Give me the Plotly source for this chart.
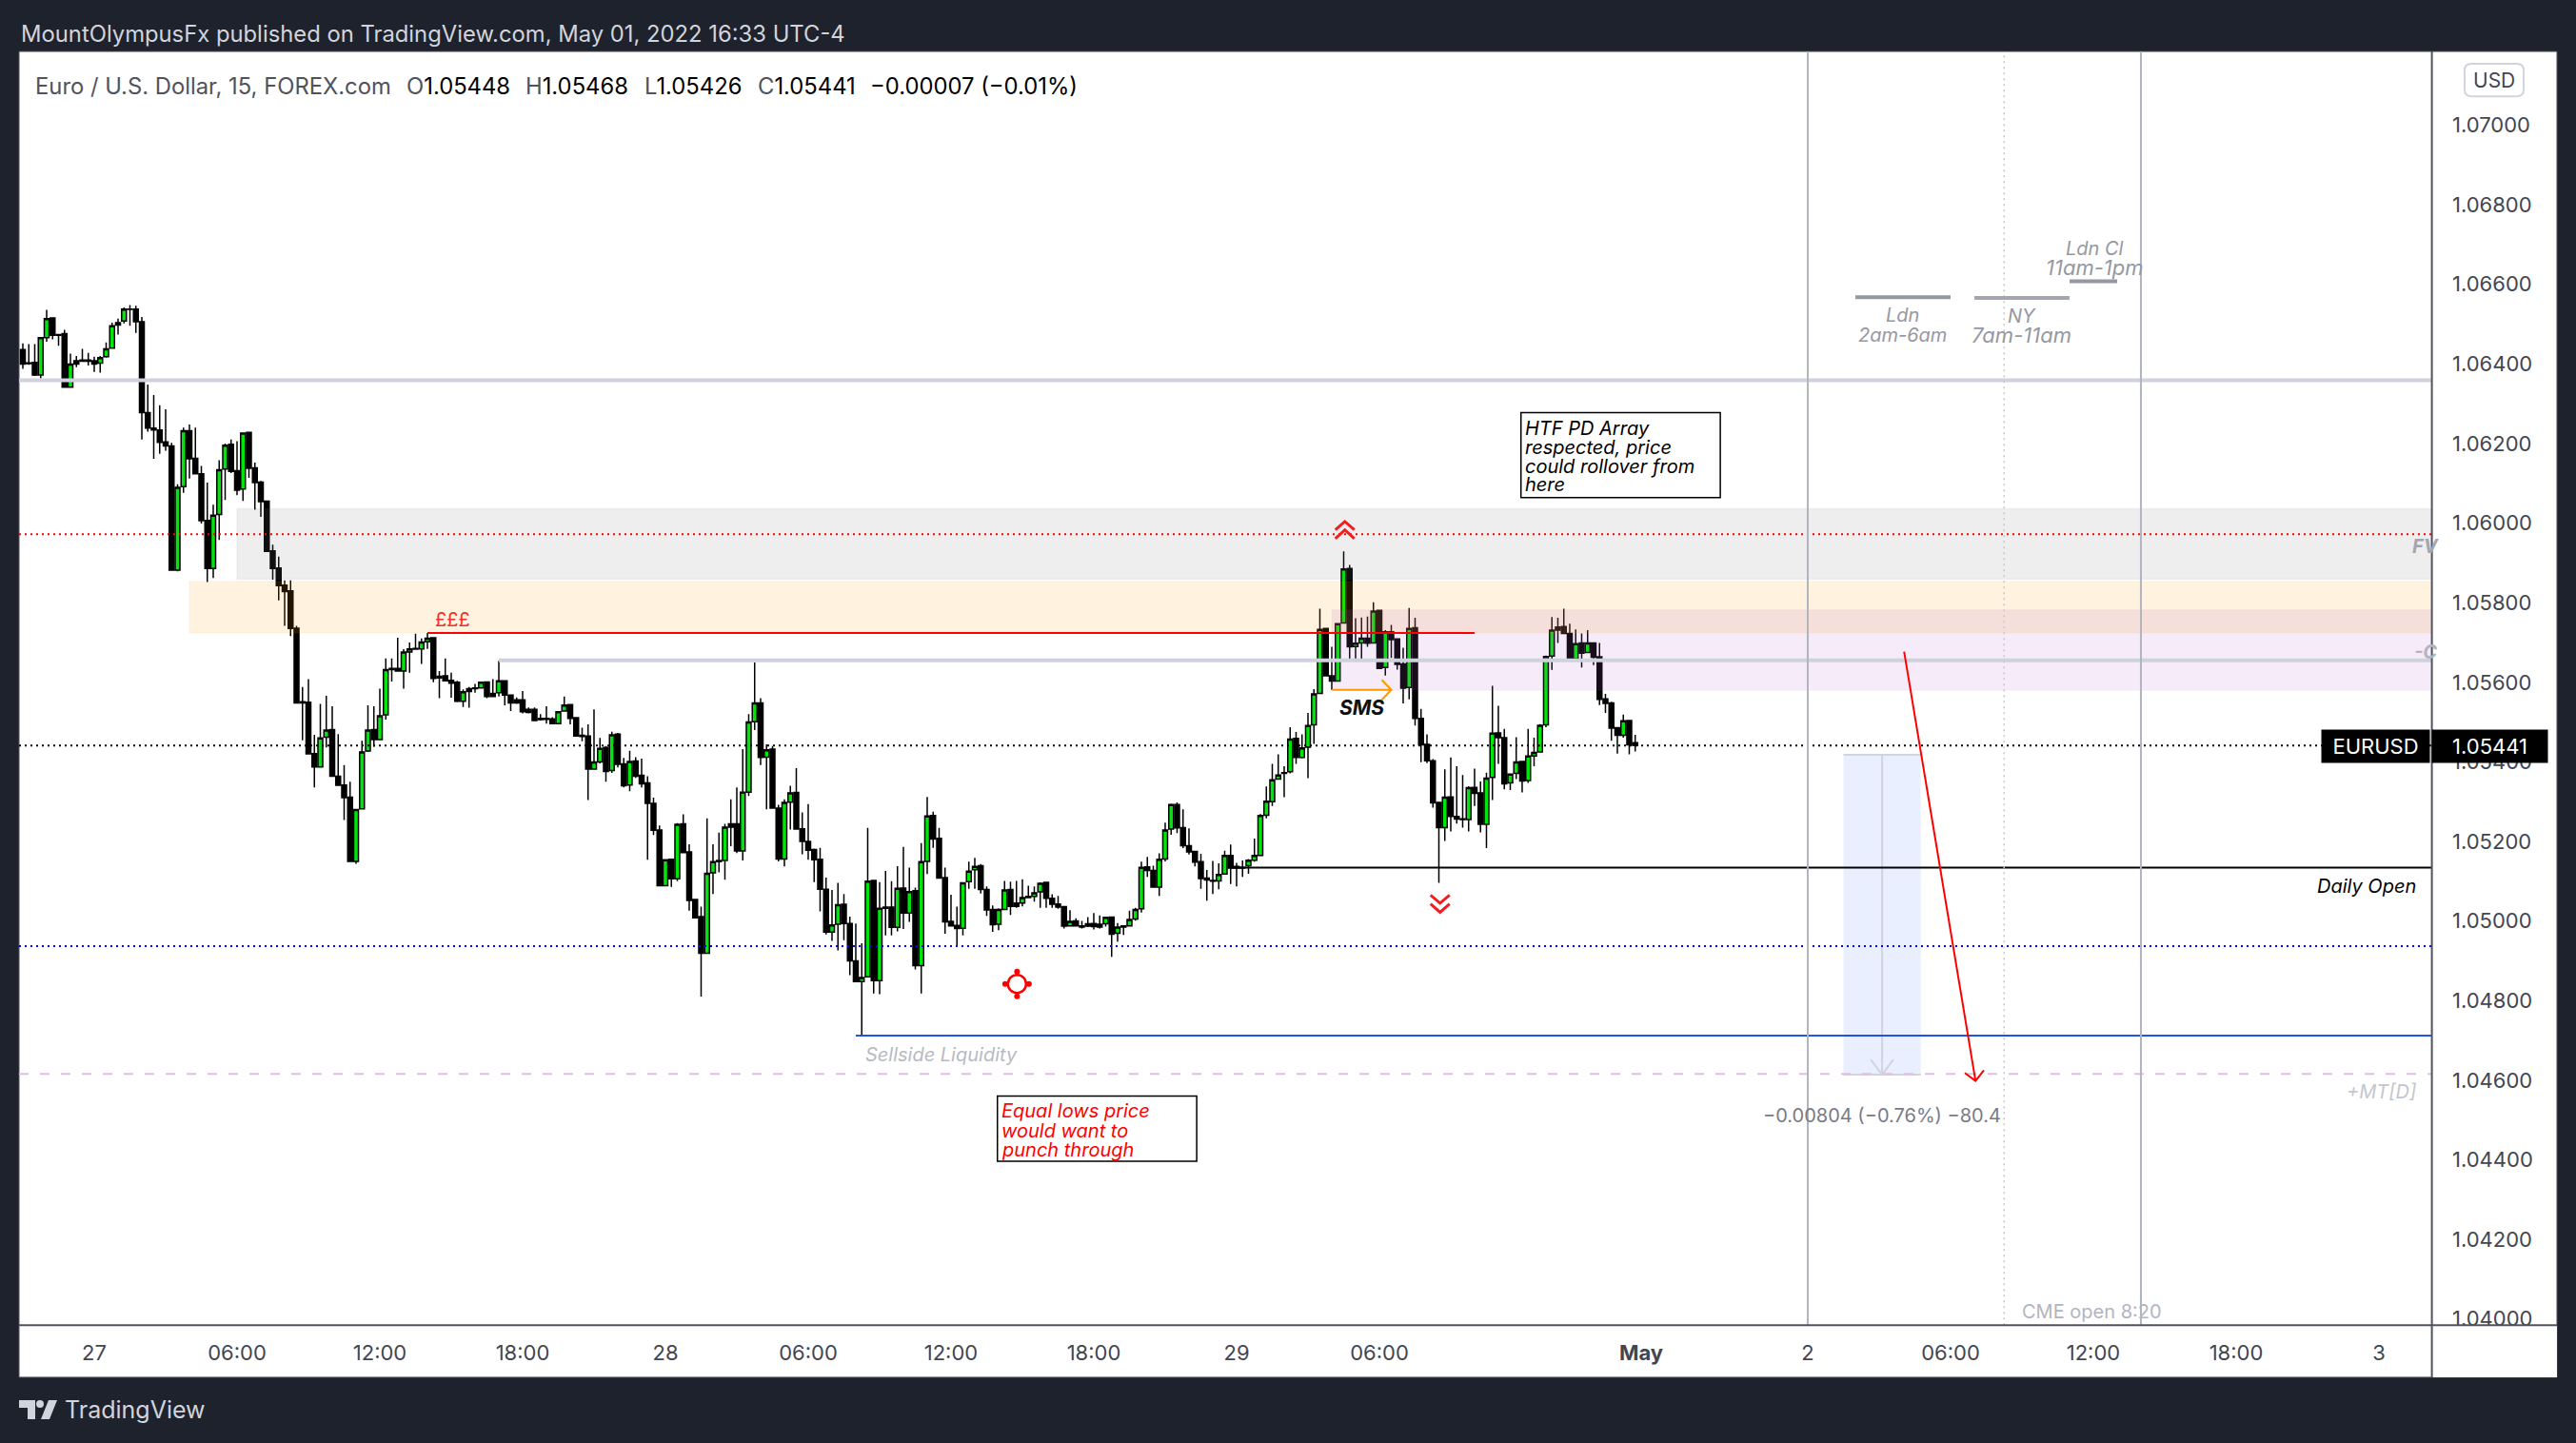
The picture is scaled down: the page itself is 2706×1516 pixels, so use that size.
import plotly.graph_objects as go

W, H = 2706, 1516
FIG_H = 1524   # the photographed page maps this figure height onto the 1516-pixel picture

# ---------- data: EURUSD 15-minute bars; bar index 0 = 27 Apr 00:00 ----------
first_bar = -12
opens = [
1.06436,1.06403,1.06404,1.06372,1.06466,1.06516,1.06474,1.06476,1.06342,1.06408,
1.06410,1.06410,1.06408,1.06402,1.06418,1.06440,1.06498,1.06508,1.06538,1.06538,
1.06506,1.06278,1.06239,1.06234,1.06204,1.06194,1.05882,1.06092,1.06232,1.06163,
1.06124,1.06007,1.05886,1.06022,1.06136,1.06198,1.06132,1.06086,1.06228,1.06139,
1.06103,1.06055,1.05930,1.05887,1.05844,1.05830,1.05736,1.05551,1.05550,1.05421,
1.05387,1.05462,1.05481,1.05364,1.05342,1.05311,1.05150,1.05282,1.05427,1.05481,
1.05456,1.05518,1.05635,1.05635,1.05628,1.05676,1.05685,1.05684,1.05702,1.05712,
1.05615,1.05616,1.05605,1.05600,1.05552,1.05584,1.05586,1.05586,1.05601,1.05572,
1.05574,1.05604,1.05568,1.05556,1.05556,1.05532,1.05532,1.05509,1.05509,1.05508,
1.05496,1.05528,1.05544,1.05511,1.05467,1.05465,1.05382,1.05400,1.05436,1.05378,
1.05470,1.05395,1.05342,1.05402,1.05366,1.05347,1.05296,1.05229,1.05089,1.05155,
1.05106,1.05244,1.05174,1.05054,1.05011,1.04919,1.05121,1.05149,1.05152,1.05244,
1.05244,1.05176,1.05324,1.05501,1.05548,1.05412,1.05432,1.05284,1.05156,1.05299,
1.05323,1.05232,1.05200,1.05180,1.05155,1.05080,1.04972,1.04992,1.05042,1.04994,
1.04900,1.04848,1.04860,1.05102,1.04850,1.05032,1.05035,1.04984,1.05083,1.05020,
1.05076,1.04888,1.05150,1.05265,1.05208,1.05109,1.04999,1.04989,1.04982,1.05099,
1.05129,1.05139,1.05079,1.05029,1.04992,1.05029,1.05079,1.05045,1.05045,1.05059,
1.05062,1.05073,1.05097,1.05057,1.05043,1.05036,1.04988,1.05000,1.04988,1.04987,
1.04994,1.04992,1.04993,1.05010,1.04969,1.04985,1.04988,1.05005,1.05031,1.05136,
1.05127,1.05085,1.05156,1.05231,1.05293,1.05235,1.05189,1.05175,1.05149,1.05108,
1.05102,1.05101,1.05118,1.05165,1.05137,1.05135,1.05139,1.05153,1.05165,1.05266,
1.05300,1.05357,1.05371,1.05375,1.05459,1.05411,1.05437,1.05493,1.05572,1.05735,
1.05616,1.05603,1.05749,1.05886,1.05690,1.05699,1.05711,1.05699,1.05781,1.05637,
1.05727,1.05709,1.05646,1.05587,1.05737,1.05509,1.05444,1.05403,1.05298,1.05235,
1.05312,1.05263,1.05257,1.05255,1.05336,1.05322,1.05243,1.05361,1.05473,1.05461,
1.05347,1.05371,1.05401,1.05353,1.05415,1.05425,1.05493,1.05666,1.05739,1.05740,
1.05723,1.05659,1.05699,1.05675,1.05699,1.05664,1.05558,1.05548,1.05486,1.05467,
1.05504,1.05448]
highs = [
1.06452,1.06450,1.06450,1.06468,1.06536,1.06516,1.06474,1.06486,1.06426,1.06420,
1.06438,1.06428,1.06418,1.06420,1.06454,1.06504,1.06514,1.06542,1.06548,1.06546,
1.06518,1.06348,1.06322,1.06296,1.06286,1.06202,1.06098,1.06240,1.06248,1.06240,
1.06144,1.06102,1.06046,1.06158,1.06200,1.06210,1.06206,1.06228,1.06228,1.06152,
1.06106,1.06055,1.05946,1.05916,1.05856,1.05856,1.05742,1.05588,1.05608,1.05468,
1.05546,1.05566,1.05540,1.05470,1.05392,1.05350,1.05282,1.05453,1.05542,1.05540,
1.05584,1.05660,1.05660,1.05712,1.05683,1.05700,1.05722,1.05710,1.05724,1.05714,
1.05628,1.05660,1.05624,1.05604,1.05582,1.05588,1.05596,1.05602,1.05601,1.05608,
1.05654,1.05604,1.05568,1.05562,1.05578,1.05537,1.05537,1.05520,1.05540,1.05512,
1.05528,1.05564,1.05544,1.05511,1.05486,1.05494,1.05532,1.05460,1.05440,1.05476,
1.05473,1.05410,1.05428,1.05412,1.05408,1.05364,1.05310,1.05240,1.05154,1.05155,
1.05246,1.05268,1.05193,1.05054,1.05036,1.05258,1.05193,1.05222,1.05244,1.05306,
1.05336,1.05432,1.05520,1.05650,1.05560,1.05444,1.05440,1.05292,1.05306,1.05340,
1.05384,1.05273,1.05294,1.05182,1.05184,1.05109,1.05078,1.05096,1.05068,1.05011,
1.04994,1.04944,1.05234,1.05104,1.05098,1.05126,1.05100,1.05138,1.05186,1.05134,
1.05084,1.05196,1.05312,1.05275,1.05234,1.05134,1.05066,1.05036,1.05098,1.05149,
1.05159,1.05143,1.05087,1.05039,1.05032,1.05101,1.05099,1.05101,1.05105,1.05089,
1.05087,1.05097,1.05098,1.05067,1.05063,1.05037,1.05027,1.05007,1.05000,1.05010,
1.05020,1.05014,1.05011,1.05011,1.04995,1.04989,1.05026,1.05033,1.05149,1.05161,
1.05139,1.05170,1.05247,1.05295,1.05298,1.05281,1.05233,1.05177,1.05169,1.05128,
1.05151,1.05145,1.05177,1.05192,1.05146,1.05152,1.05156,1.05207,1.05269,1.05338,
1.05395,1.05419,1.05389,1.05487,1.05475,1.05469,1.05523,1.05583,1.05785,1.05735,
1.05689,1.05749,1.05929,1.05895,1.05761,1.05763,1.05765,1.05801,1.05781,1.05731,
1.05744,1.05709,1.05687,1.05787,1.05762,1.05533,1.05469,1.05407,1.05298,1.05381,
1.05411,1.05389,1.05367,1.05339,1.05383,1.05351,1.05373,1.05591,1.05541,1.05483,
1.05371,1.05462,1.05401,1.05483,1.05461,1.05495,1.05667,1.05764,1.05762,1.05785,
1.05747,1.05733,1.05723,1.05731,1.05699,1.05699,1.05571,1.05551,1.05486,1.05519,
1.05504,1.05468]
lows = [
1.06388,1.06398,1.06370,1.06364,1.06456,1.06462,1.06446,1.06342,1.06340,1.06392,
1.06406,1.06396,1.06380,1.06378,1.06416,1.06438,1.06474,1.06502,1.06496,1.06478,
1.06210,1.06230,1.06162,1.06174,1.06182,1.05882,1.05879,1.06076,1.06112,1.06124,
1.05999,1.05852,1.05862,1.05958,1.06058,1.06126,1.06070,1.06056,1.06114,1.06034,
1.06016,1.05927,1.05858,1.05806,1.05742,1.05716,1.05548,1.05454,1.05420,1.05336,
1.05387,1.05436,1.05364,1.05341,1.05254,1.05150,1.05144,1.05280,1.05425,1.05438,
1.05454,1.05506,1.05602,1.05628,1.05584,1.05624,1.05683,1.05646,1.05684,1.05600,
1.05560,1.05604,1.05561,1.05550,1.05538,1.05536,1.05574,1.05584,1.05560,1.05564,
1.05564,1.05542,1.05528,1.05546,1.05522,1.05522,1.05504,1.05504,1.05496,1.05496,
1.05496,1.05526,1.05494,1.05465,1.05452,1.05304,1.05382,1.05396,1.05350,1.05372,
1.05386,1.05336,1.05326,1.05360,1.05336,1.05154,1.05216,1.05089,1.05089,1.05086,
1.05100,1.05172,1.05026,1.05006,1.04810,1.04919,1.05068,1.05122,1.05104,1.05188,
1.05171,1.05152,1.05314,1.05480,1.05392,1.05281,1.05284,1.05150,1.05137,1.05230,
1.05231,1.05168,1.05154,1.05098,1.05024,1.04966,1.04950,1.04926,1.04952,1.04864,
1.04848,1.04710,1.04860,1.04818,1.04816,1.04964,1.04964,1.04974,1.04980,1.04998,
1.04878,1.04818,1.05118,1.05184,1.05106,1.04968,1.04988,1.04936,1.04964,1.05081,
1.05081,1.05069,1.05013,1.04973,1.04977,1.05028,1.05015,1.05033,1.05037,1.05059,
1.05049,1.05033,1.05033,1.05033,1.05031,1.04981,1.04988,1.04988,1.04981,1.04985,
1.04979,1.04981,1.04986,1.04910,1.04948,1.04965,1.04986,1.05001,1.05021,1.05111,
1.05085,1.05063,1.05150,1.05217,1.05221,1.05183,1.05167,1.05137,1.05081,1.05051,
1.05068,1.05080,1.05117,1.05093,1.05087,1.05111,1.05119,1.05149,1.05164,1.05258,
1.05289,1.05355,1.05311,1.05371,1.05395,1.05409,1.05359,1.05445,1.05571,1.05616,
1.05581,1.05603,1.05747,1.05659,1.05659,1.05659,1.05689,1.05698,1.05635,1.05617,
1.05661,1.05632,1.05547,1.05557,1.05491,1.05399,1.05397,1.05285,1.05096,1.05201,
1.05225,1.05245,1.05235,1.05225,1.05289,1.05223,1.05183,1.05304,1.05395,1.05331,
1.05329,1.05357,1.05323,1.05347,1.05389,1.05423,1.05487,1.05631,1.05699,1.05723,
1.05659,1.05653,1.05637,1.05673,1.05643,1.05543,1.05523,1.05453,1.05421,1.05461,
1.05419,1.05426]
closes = [
1.06400,1.06401,1.06372,1.06466,1.06514,1.06472,1.06472,1.06342,1.06400,1.06400,
1.06407,1.06407,1.06400,1.06416,1.06438,1.06496,1.06504,1.06538,1.06537,1.06506,
1.06278,1.06239,1.06234,1.06203,1.06194,1.05882,1.06090,1.06232,1.06162,1.06124,
1.06006,1.05886,1.06020,1.06134,1.06196,1.06130,1.06083,1.06226,1.06138,1.06102,
1.06054,1.05929,1.05886,1.05843,1.05828,1.05735,1.05548,1.05548,1.05420,1.05387,
1.05460,1.05480,1.05364,1.05341,1.05310,1.05150,1.05280,1.05425,1.05480,1.05456,
1.05516,1.05632,1.05632,1.05628,1.05676,1.05684,1.05683,1.05701,1.05711,1.05610,
1.05611,1.05604,1.05598,1.05552,1.05576,1.05577,1.05584,1.05600,1.05564,1.05564,
1.05604,1.05568,1.05548,1.05548,1.05526,1.05524,1.05504,1.05506,1.05507,1.05496,
1.05526,1.05543,1.05509,1.05465,1.05464,1.05382,1.05400,1.05434,1.05376,1.05468,
1.05394,1.05340,1.05401,1.05364,1.05345,1.05296,1.05228,1.05089,1.05154,1.05106,
1.05243,1.05172,1.05052,1.05008,1.04919,1.05120,1.05149,1.05152,1.05236,1.05236,
1.05176,1.05324,1.05500,1.05548,1.05411,1.05430,1.05284,1.05156,1.05298,1.05322,
1.05231,1.05200,1.05178,1.05154,1.05080,1.04972,1.04990,1.05041,1.04994,1.04900,
1.04848,1.04858,1.05100,1.04850,1.05032,1.05035,1.04984,1.05082,1.05020,1.05074,
1.04888,1.05149,1.05264,1.05206,1.05108,1.04998,1.04988,1.04981,1.05096,1.05125,
1.05137,1.05079,1.05028,1.04991,1.05029,1.05078,1.05037,1.05037,1.05059,1.05062,
1.05071,1.05095,1.05057,1.05042,1.05035,1.04987,1.04999,1.04988,1.04985,1.04993,
1.04986,1.04985,1.05009,1.04967,1.04985,1.04988,1.05004,1.05029,1.05135,1.05127,
1.05085,1.05155,1.05229,1.05293,1.05234,1.05189,1.05174,1.05148,1.05107,1.05103,
1.05100,1.05117,1.05165,1.05133,1.05133,1.05133,1.05153,1.05165,1.05265,1.05301,
1.05355,1.05367,1.05373,1.05457,1.05411,1.05435,1.05491,1.05571,1.05733,1.05616,
1.05603,1.05747,1.05885,1.05689,1.05698,1.05711,1.05698,1.05779,1.05635,1.05727,
1.05707,1.05645,1.05585,1.05735,1.05509,1.05443,1.05403,1.05297,1.05235,1.05311,
1.05263,1.05256,1.05255,1.05335,1.05321,1.05243,1.05359,1.05472,1.05461,1.05345,
1.05369,1.05400,1.05352,1.05415,1.05424,1.05492,1.05665,1.05731,1.05731,1.05723,
1.05659,1.05697,1.05673,1.05699,1.05663,1.05557,1.05547,1.05485,1.05467,1.05503,
1.05443,1.05441]
assert len(opens) == len(highs) == len(lows) == len(closes)
bars = list(range(first_bar, first_bar + len(opens)))

tick_bars = [0, 24, 48, 72, 96, 120, 144, 168, 192, 216, 260, 288, 312, 336, 360, 384]
tick_labels = ["27", "06:00", "12:00", "18:00", "28", "06:00", "12:00", "18:00", "29", "06:00",
               "<b>May</b>", "2", "06:00", "12:00", "18:00", "3"]
price_ticks = [1.04, 1.042, 1.044, 1.046, 1.048, 1.05, 1.052, 1.054, 1.056, 1.058,
               1.06, 1.062, 1.064, 1.066, 1.068, 1.07]

last_price = 1.05441
htf_line = 1.06359
swing_line = 1.05655
red_dot_line = 1.05972
blue_dot_line = 1.04937
pound_line = 1.05724
daily_open = 1.05134
sellside_line = 1.04712
mt_line = 1.04616

X_MIN, X_MAX = -12.64, 392.9
Y_MIN, Y_MAX = 1.03984, 1.071854
FONT = "Inter"
BG = "#1e222d"
AXIS_TEXT = "#434651"

# panel geometry in pixels of the screenshot
PL, PR, PT, PB, WR, WB = 20, 2554.6, 54, 1390.5, 2686, 1445
fx = lambda p: p / W
fy = lambda p: 1 - p / H

shapes, ann = [], []


def hline(y, x0=X_MIN, x1=X_MAX, color="#000", width=2, dash="solid", layer="above"):
    shapes.append(dict(type="line", xref="x", yref="y", x0=x0, x1=x1, y0=y, y1=y,
                       line=dict(color=color, width=width, dash=dash), layer=layer))


def vline(x, color="#b2b5be", width=2, dash="solid"):
    shapes.append(dict(type="line", xref="x", yref="y", x0=x, x1=x, y0=Y_MIN, y1=Y_MAX,
                       line=dict(color=color, width=width, dash=dash), layer="above"))


def zone(x0, x1, y0, y1, fill, edge="rgba(0,0,0,0)"):
    shapes.append(dict(type="rect", xref="x", yref="y", x0=x0, x1=x1, y0=y0, y1=y1,
                       fillcolor=fill, line=dict(color=edge, width=1.5), layer="above"))


def poly(pts, color, width=2):
    d = "M " + " L ".join(f"{a},{b}" for a, b in pts)
    shapes.append(dict(type="path", xref="x", yref="y", path=d,
                       line=dict(color=color, width=width), layer="above"))


def text(s, x, y, color="#000", size=20, anchor="center", italic=False, bold=False):
    t = s
    if italic:
        t = f"<i>{t}</i>"
    if bold:
        t = f"<b>{t}</b>"
    ann.append(dict(text=t, x=x, y=y, xref="x", yref="y", xanchor=anchor, yanchor="middle",
                    showarrow=False, font=dict(family=FONT, size=size, color=color)))


def chrome(s, px, py, color, size, anchor="left"):
    ann.append(dict(text=s, x=fx(px), y=fy(py), xref="paper", yref="paper", xanchor=anchor,
                    yanchor="middle", showarrow=False,
                    font=dict(family=FONT, size=size, color=color)))


# white panel under the plot
shapes.append(dict(type="rect", xref="paper", yref="paper", x0=fx(PL), x1=fx(WR), y0=fy(WB), y1=fy(PT),
                   fillcolor="#ffffff", line=dict(color="#50535e", width=1), layer="below"))

# zones (drawn translucent over the candles)
zone(24, X_MAX, 1.05859, 1.06036, "rgba(120,123,134,0.13)", "rgba(120,123,134,0.08)")
zone(16, X_MAX, 1.05724, 1.05854, "rgba(255,152,0,0.13)", "rgba(255,152,0,0.05)")
zone(208, X_MAX, 1.05580, 1.05782, "rgba(186,104,200,0.13)", "rgba(186,104,200,0.04)")
# measure box
zone(294, 307, 1.04614, 1.05418, "rgba(41,98,255,0.10)")
hline(1.05418, 294, 307, "#d1d4dc", 2)
hline(1.04614, 294, 307, "#d1d4dc", 2)
poly([(300.5, 1.05418), (300.5, 1.04614)], "#d1d4dc", 2)
poly([(298.6, 1.04652), (300.5, 1.04614), (302.4, 1.04652)], "#d1d4dc", 2)

# horizontal levels
hline(htf_line, color="#cfd2dc", width=4)
hline(swing_line, x0=68, color="#cfd2dc", width=4)
hline(red_dot_line, color="#ff0000", width=2, dash="2px,4px")
hline(last_price, color="#000000", width=2, dash="2px,4px")
hline(blue_dot_line, color="#0000ff", width=2, dash="2px,4px")
hline(pound_line, 56, 232, "#ff0000", 2)
hline(daily_open, x0=191, color="#000000", width=2)
hline(sellside_line, x0=128, color="#1e53e5", width=2)
hline(mt_line, color="#e1bee7", width=2, dash="10px,12px")

# verticals
vline(288)
vline(344)
vline(321, "#c4c6cd", 1.5, "2px,4px")

# sessions
hline(1.06568, 296, 312, "#9598a1", 4)
hline(1.06566, 316, 332, "#a3a6af", 4)
hline(1.06608, 332, 340, "#9598a1", 4)
gray = "#9598a1"
text("Ldn", 304, 1.06522, gray, 20, italic=True)
text("2am-6am", 304, 1.06472, gray, 20, italic=True)
text("NY", 324, 1.06520, gray, 20, italic=True)
text("7am-11am", 324, 1.06472, gray, 22, italic=True)
text("Ldn Cl", 336.2, 1.06690, gray, 20, italic=True)
text("11am-1pm", 336.2, 1.06642, gray, 22, italic=True)

# sloped red arrow
poly([(304.2, 1.05677), (316.2, 1.04598)], "#ff0000", 2)
poly([(314.4, 1.04618), (316.2, 1.04598), (317.6, 1.04625)], "#ff0000", 2)
# orange SMS arrow
poly([(208, 1.05581), (218, 1.05581)], "#ff9800", 2)
poly([(216.4, 1.05606), (218, 1.05581), (216.4, 1.05556)], "#ff9800", 2)
# chevrons
poly([(208.6, 1.05983), (210.2, 1.06004), (211.8, 1.05983)], "#f01e1e", 3)
poly([(208.6, 1.05961), (210.2, 1.05983), (211.8, 1.05961)], "#f01e1e", 3)
poly([(224.6, 1.05065), (226.2, 1.05045), (227.8, 1.05065)], "#f01e1e", 3)
poly([(224.6, 1.05043), (226.2, 1.05022), (227.8, 1.05043)], "#f01e1e", 3)

# note boxes
zone(239.8, 273.3, 1.06064, 1.06278, "#ffffff", "#000000")
zone(151.8, 185.3, 1.04396, 1.04560, "#ffffff", "#000000")
for s, y in [("HTF PD Array", 1.06239), ("respected, price", 1.06191),
             ("could rollover from", 1.06143), ("here", 1.06096)]:
    text(s, 240.2, y, "#000000", 20, "left", italic=True)
for s, y in [("Equal lows price", 1.04522), ("would want to", 1.04474), ("punch through", 1.04426)]:
    text(s, 152.2, y, "#ff0000", 20, "left", italic=True)

text("£££", 60.2, 1.05758, "#f23030", 20)
text("Sellside Liquidity", 142.4, 1.04665, "#b8bac2", 20, italic=True)
text("SMS", 213, 1.05535, "#111111", 21, italic=True, bold=True)
text("−0.00804 (−0.76%) −80.4", 300.5, 1.04510, "#787b86", 20)
text("CME open 8:20", 335.7, 1.04019, "#b2b5be", 20)
text("Daily Open", 390.6, 1.05087, "#000000", 20, "right", italic=True)
text("+MT[D]", 390.6, 1.04570, "#c4c6cd", 20, "right", italic=True)
text("FV", 389.3, 1.05942, "#a3a6af", 20, "left", italic=True, bold=True)
text("-C", 389.6, 1.05676, "#b2b5be", 20, "left", italic=True, bold=True)

# axis frame lines and the masked bottom-right corner
shapes.append(dict(type="rect", xref="paper", yref="paper", x0=fx(PR + 1), x1=fx(WR), y0=fy(WB), y1=fy(PB),
                   fillcolor="#ffffff", line=dict(width=0), layer="above"))
shapes.append(dict(type="line", xref="paper", yref="paper", x0=fx(PR), x1=fx(PR), y0=fy(WB), y1=fy(PT),
                   line=dict(color="#50535e", width=2), layer="above"))
shapes.append(dict(type="line", xref="paper", yref="paper", x0=fx(PL), x1=fx(WR), y0=fy(PB), y1=fy(PB),
                   line=dict(color="#50535e", width=2), layer="above"))

# USD button (rounded)
bx0, bx1, by0, by1, r = 2589, 2651, 67, 101, 7
p = (f"M {fx(bx0 + r)},{fy(by0)} L {fx(bx1 - r)},{fy(by0)} Q {fx(bx1)},{fy(by0)} {fx(bx1)},{fy(by0 + r)} "
     f"L {fx(bx1)},{fy(by1 - r)} Q {fx(bx1)},{fy(by1)} {fx(bx1 - r)},{fy(by1)} "
     f"L {fx(bx0 + r)},{fy(by1)} Q {fx(bx0)},{fy(by1)} {fx(bx0)},{fy(by1 - r)} "
     f"L {fx(bx0)},{fy(by0 + r)} Q {fx(bx0)},{fy(by0)} {fx(bx0 + r)},{fy(by0)} Z")
shapes.append(dict(type="path", xref="paper", yref="paper", path=p, fillcolor="#ffffff",
                   line=dict(color="#d1d4dc", width=2), layer="above"))
chrome("USD", 2620, 84, AXIS_TEXT, 21, "center")

# header, legend, footer
chrome("MountOlympusFx published on TradingView.com, May 01, 2022 16:33 UTC-4", 20, 35, "#d1d4dc", 23.8)
lab = "#50535e"
chrome("Euro / U.S. Dollar, 15, FOREX.com", 35, 90, lab, 23.8)
for letter, value, px in [("O", "1.05448", 425), ("H", "1.05468", 550), ("L", "1.05426", 675), ("C", "1.05441", 794)]:
    chrome(f"<span style='color:{lab}'>{letter}</span>{value}", px, 90, "#000000", 23.8)
chrome("−0.00007 (−0.01%)", 912, 90, "#000000", 23.8)
chrome("TradingView", 66, 1479, "#d1d4dc", 25)
# TradingView logo
lg = "#d1d4dc"
shapes.append(dict(type="path", xref="paper", yref="paper", fillcolor=lg, line=dict(width=0), layer="above",
                   path=f"M {fx(20)},{fy(1469)} L {fx(37)},{fy(1469)} L {fx(37)},{fy(1489)} L {fx(29)},{fy(1489)} "
                        f"L {fx(29)},{fy(1477)} L {fx(20)},{fy(1477)} Z"))
shapes.append(dict(type="circle", xref="paper", yref="paper", fillcolor=lg, line=dict(width=0), layer="above",
                   x0=fx(38), x1=fx(46), y0=fy(1477), y1=fy(1469)))
shapes.append(dict(type="path", xref="paper", yref="paper", fillcolor=lg, line=dict(width=0), layer="above",
                   path=f"M {fx(51)},{fy(1469)} L {fx(60)},{fy(1469)} L {fx(52)},{fy(1489)} L {fx(43)},{fy(1489)} Z"))

# last-price tags
for s, x0, x1 in [("EURUSD", 2440, 2551), ("1.05441", 2556, 2675)]:
    ann.append(dict(text=s, x=fx((x0 + x1) / 2), y=fy(783), xref="paper", yref="paper", showarrow=False,
                    xanchor="center", yanchor="middle", width=x1 - x0, height=32, bgcolor="#000000",
                    align="center", font=dict(family=FONT, size=22, color="#ffffff")))

# target marker
target_ring_x, target_ring_y = [155.1], [1.04842]
target_dot_x = [155.1, 157.1, 155.1, 153.1]
target_dot_y = [1.04873, 1.04842, 1.04811, 1.04842]

fig = go.Figure()
fig.add_trace(go.Candlestick(
    x=bars, open=opens, high=highs, low=lows, close=closes, whiskerwidth=0,
    increasing=dict(fillcolor="#00e60a", line=dict(color="#000000", width=1.5)),
    decreasing=dict(fillcolor="#000000", line=dict(color="#000000", width=1.5)),
    showlegend=False, hoverinfo="skip"))
fig.add_trace(go.Scatter(x=target_ring_x, y=target_ring_y, mode="markers", showlegend=False, hoverinfo="skip",
                         marker=dict(symbol="circle-open", size=19, color="#ff0000", line=dict(width=2.5, color="#ff0000"))))
fig.add_trace(go.Scatter(x=target_dot_x, y=target_dot_y, mode="markers", showlegend=False, hoverinfo="skip",
                         marker=dict(symbol="circle", size=6, color="#ff0000")))

fig.update_layout(
    width=W, height=FIG_H, margin=dict(l=0, r=0, t=0, b=0, pad=0),
    paper_bgcolor=BG, plot_bgcolor="#ffffff", showlegend=False, hovermode=False,
    boxgap=0.2, boxgroupgap=0,
    shapes=shapes, annotations=ann,
    font=dict(family=FONT),
    xaxis=dict(domain=[fx(PL), fx(PR)], range=[X_MIN, X_MAX], type="linear", rangeslider=dict(visible=False),
               tickmode="array", tickvals=tick_bars, ticktext=tick_labels, showgrid=False, zeroline=False,
               showline=False, ticks="outside", ticklen=9, tickcolor="rgba(0,0,0,0)",
               tickfont=dict(family=FONT, size=22, color=AXIS_TEXT)),
    yaxis=dict(domain=[fy(PB), fy(PT)], range=[Y_MIN, Y_MAX], side="right", tickmode="array", tickvals=price_ticks,
               tickformat=".5f", showgrid=False, zeroline=False, showline=False, ticks="outside", ticklen=16,
               tickcolor="rgba(0,0,0,0)", tickfont=dict(family=FONT, size=22, color=AXIS_TEXT)),
)

fig.write_html("out.html", config=dict(displayModeBar=False),
               post_script="var s=document.createElement('style');"
                           "s.textContent='html,body{margin:0;padding:0;overflow:hidden;background:#1e222d}"
                           "svg.main-svg{display:block}';document.head.appendChild(s);")
